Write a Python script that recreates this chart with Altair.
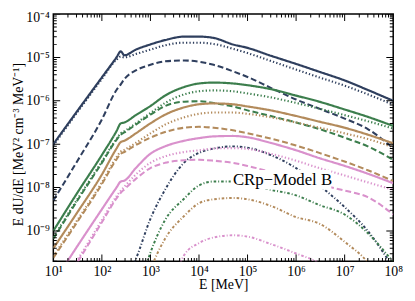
import altair as alt
import pandas as pd

# Energy grid [MeV] at which the curves were read
E = [10, 30, 100, 200, 245, 290, 500, 1e3, 2e3, 5e3, 1e4, 2e4, 5e4, 1e5, 3e5, 1e6, 3e6, 1e7, 3e7, 1e8]

# log10(E dU/dE), one list per curve
navy_solid = [-7.00, -6.26, -5.46, -5.00, -4.86, -4.95, -4.82, -4.70, -4.60, -4.52, -4.52, -4.55, -4.70, -4.78, -4.96, -5.15, -5.33, -5.53, -5.75, -6.00]
navy_dotted = [-7.03, -6.29, -5.50, -5.05, -4.98, -5.00, -4.92, -4.82, -4.72, -4.66, -4.66, -4.69, -4.80, -4.90, -5.08, -5.28, -5.46, -5.65, -5.85, -6.09]
navy_dashed = [-8.30, -7.42, -6.43, -5.75, -5.62, -5.50, -5.30, -5.17, -5.09, -5.07, -5.10, -5.17, -5.32, -5.45, -5.70, -5.97, -6.18, -6.41, -6.65, -7.09]
navy_dashdot = [None, None, None, None, None, -10.2, -9.65, -8.72, -8.05, -7.42, -7.20, -7.10, -7.05, -7.08, -7.25, -7.55, -7.95, -8.45, -9.00, -9.85]

green_solid = [-9.00, -8.15, -7.25, -6.70, -6.52, -6.50, -6.33, -6.12, -5.88, -5.68, -5.60, -5.58, -5.60, -5.64, -5.73, -5.88, -6.02, -6.20, -6.37, -6.58]
green_dotted = [-9.15, -8.30, -7.40, -6.88, -6.75, -6.70, -6.52, -6.28, -6.05, -5.85, -5.78, -5.76, -5.78, -5.83, -5.92, -6.05, -6.18, -6.33, -6.47, -6.64]
green_dashed = [-9.18, -8.33, -7.43, -6.90, -6.78, -6.73, -6.55, -6.32, -6.12, -6.02, -6.01, -6.05, -6.13, -6.22, -6.35, -6.50, -6.65, -6.85, -7.05, -7.36]
green_dashdot = [None, None, None, None, None, None, -10.6, -9.50, -8.75, -8.25, -7.95, -7.86, -7.86, -7.93, -8.05, -8.18, -8.40, -8.62, -9.05, -9.72]

tan_solid = [-9.40, -8.60, -7.70, -7.10, -6.95, -6.92, -6.75, -6.52, -6.32, -6.15, -6.08, -6.06, -6.08, -6.13, -6.22, -6.35, -6.48, -6.62, -6.78, -6.98]
tan_dotted = [-9.58, -8.78, -7.88, -7.30, -7.17, -7.13, -6.97, -6.75, -6.55, -6.38, -6.30, -6.27, -6.27, -6.30, -6.38, -6.50, -6.62, -6.75, -6.88, -7.07]
tan_dashed = [-9.62, -8.82, -7.92, -7.35, -7.22, -7.18, -7.02, -6.85, -6.72, -6.62, -6.60, -6.62, -6.68, -6.75, -6.87, -7.03, -7.20, -7.40, -7.60, -7.85]
tan_dashdot = [None, None, None, None, None, None, -11.0, -9.90, -9.18, -8.65, -8.36, -8.27, -8.24, -8.27, -8.42, -8.68, -8.83, -9.25, -9.72, -10.6]

pink_solid = [-10.20, -9.38, -8.50, -8.00, -7.86, -7.84, -7.55, -7.22, -7.05, -6.92, -6.86, -6.82, -6.81, -6.84, -6.97, -7.14, -7.32, -7.50, -7.68, -7.90]
pink_dotted = [-10.50, -9.70, -8.75, -8.20, -8.07, -7.98, -7.70, -7.43, -7.28, -7.18, -7.14, -7.10, -7.09, -7.11, -7.22, -7.38, -7.55, -7.72, -7.88, -8.05]
pink_dashed = [-10.55, -9.75, -8.80, -8.25, -8.12, -8.04, -7.80, -7.55, -7.43, -7.37, -7.36, -7.38, -7.43, -7.50, -7.64, -7.80, -7.93, -8.07, -8.22, -8.62]
pink_dashdot = [None, None, None, None, None, None, None, -11.5, -10.8, -9.55, -9.28, -9.15, -9.10, -9.13, -9.30, -9.52, -9.75, -10.3, None, None]

groups = ["navy", "green", "tan", "pink"]
group_colors = ["#2f3f5e", "#3c7e4d", "#b38b5c", "#d991cc"]
styles = ["solid", "dotted", "dashed", "dashdot"]
style_dash = [[1, 0], [1.3, 2.2], [6, 3], [2.6, 2, 1, 2]]
style_width = [2.2, 2.0, 2.4, 1.8]

curves = [
    ("navy", "solid", navy_solid), ("navy", "dotted", navy_dotted),
    ("navy", "dashed", navy_dashed), ("navy", "dashdot", navy_dashdot),
    ("green", "solid", green_solid), ("green", "dotted", green_dotted),
    ("green", "dashed", green_dashed), ("green", "dashdot", green_dashdot),
    ("tan", "solid", tan_solid), ("tan", "dotted", tan_dotted),
    ("tan", "dashed", tan_dashed), ("tan", "dashdot", tan_dashdot),
    ("pink", "solid", pink_solid), ("pink", "dotted", pink_dotted),
    ("pink", "dashed", pink_dashed), ("pink", "dashdot", pink_dashdot),
]

rows = []
for g, s, vals in curves:
    for e, lv in zip(E, vals):
        if lv is not None:
            rows.append({"E": e, "v": 10 ** lv, "group": g, "style": s, "key": g + "-" + s})
df = pd.DataFrame(rows)

x_major = [1e1, 1e2, 1e3, 1e4, 1e5, 1e6, 1e7, 1e8]
y_major = [1e-9, 1e-8, 1e-7, 1e-6, 1e-5, 1e-4]
x_minor = [m * 10 ** k for k in range(1, 8) for m in range(2, 10)]
y_minor = [m * 10.0 ** k for k in range(-10, -4) for m in range(2, 10) if 10 ** -9.7 <= m * 10.0 ** k <= 1e-4]

# annotation text and the white box behind it (data coordinates)
label_text = ["CRp\u2212Model B"]
label_E = [5.0e4]
label_v = [1.5e-8]
box_E = [4.5e4, 5.3e6]
box_v = [9.0e-9, 2.55e-8]

W, H = 345, 251
FONT = "Liberation Serif"

sup = {"-": "\u207b", "0": "\u2070", "1": "\u00b9", "2": "\u00b2", "3": "\u00b3", "4": "\u2074",
       "5": "\u2075", "6": "\u2076", "7": "\u2077", "8": "\u2078", "9": "\u2079"}
expr = "'' + round(log(datum.value)/LN10)"
for k, v in sup.items():
    expr = "replace(%s, '%s', '%s')" % (expr, k, v)
label_expr = "'10' + " + expr

xscale = alt.Scale(type="log", domain=[10, 1e8], nice=False)
yscale = alt.Scale(type="log", domain=[10 ** -9.7, 1e-4], nice=False)

lines = alt.Chart(df).mark_line(clip=True, interpolate="monotone").encode(
    x=alt.X("E:Q", scale=xscale, axis=alt.Axis(values=x_major, labelExpr=label_expr, ticks=False,
            domain=False, grid=False, labelFont=FONT, labelFontSize=14, labelColor="black",
            labelPadding=3, title="E [MeV]", titleFont=FONT, titleFontSize=14,
            titleFontWeight="normal", titleColor="black", titlePadding=0, labelFlush=False)),
    y=alt.Y("v:Q", scale=yscale, axis=alt.Axis(values=y_major, labelExpr=label_expr, ticks=False,
            domain=False, grid=False, labelFont=FONT, labelFontSize=14, labelColor="black",
            labelPadding=4, labelFlush=True, labelFlushOffset=3,
            title="E dU/dE [MeV\u00b2 cm\u207b\u00b3 MeV\u207b\u00b9]", titleFont=FONT,
            titleFontSize=14, titleFontWeight="normal", titleColor="black",
            titleX=-28, titleY=132, titleAlign="center", titleBaseline="bottom", titleAngle=270)),
    color=alt.Color("group:N", scale=alt.Scale(domain=groups, range=group_colors), legend=None),
    strokeDash=alt.StrokeDash("style:N", scale=alt.Scale(domain=styles, range=style_dash), legend=None),
    strokeWidth=alt.StrokeWidth("style:N", scale=alt.Scale(domain=styles, range=style_width), legend=None),
    detail="key:N",
)

def xticks(vals, size, ypos):
    return alt.Chart(pd.DataFrame({"E": vals})).mark_tick(
        clip=True, size=size, thickness=1, color="black", orient="vertical", opacity=1
    ).encode(x=alt.X("E:Q", scale=xscale), y=alt.value(ypos))

def yticks(vals, size, xpos):
    return alt.Chart(pd.DataFrame({"v": vals})).mark_tick(
        clip=True, size=size, thickness=1, color="black", orient="horizontal", opacity=1
    ).encode(y=alt.Y("v:Q", scale=yscale), x=alt.value(xpos))

ticks = [
    xticks(x_major, 14, H), xticks(x_minor, 7, H), xticks(x_major, 14, 0), xticks(x_minor, 7, 0),
    yticks(y_major, 14, 0), yticks(y_minor, 7, 0), yticks(y_major, 14, W), yticks(y_minor, 7, W),
]

box = alt.Chart(pd.DataFrame({"E": [box_E[0]], "E2": [box_E[1]], "v": [box_v[0]], "v2": [box_v[1]]})).mark_rect(
    color="white", opacity=1
).encode(x=alt.X("E:Q", scale=xscale), x2="E2:Q", y=alt.Y("v:Q", scale=yscale), y2="v2:Q")

label = alt.Chart(pd.DataFrame({"E": label_E, "v": label_v, "t": label_text})).mark_text(
    align="left", baseline="middle", font=FONT, fontSize=17, color="black"
).encode(x=alt.X("E:Q", scale=xscale), y=alt.Y("v:Q", scale=yscale), text="t:N")

chart = alt.layer(lines, box, label, *ticks).properties(
    width=W, height=H,
    autosize=alt.AutoSizeParams(type="none"),
    padding={"left": 46, "top": 4, "right": 14, "bottom": 30},
).configure_view(stroke="black", strokeWidth=1.5)

chart.save("out.html", embed_options={"renderer": "svg", "actions": False})
